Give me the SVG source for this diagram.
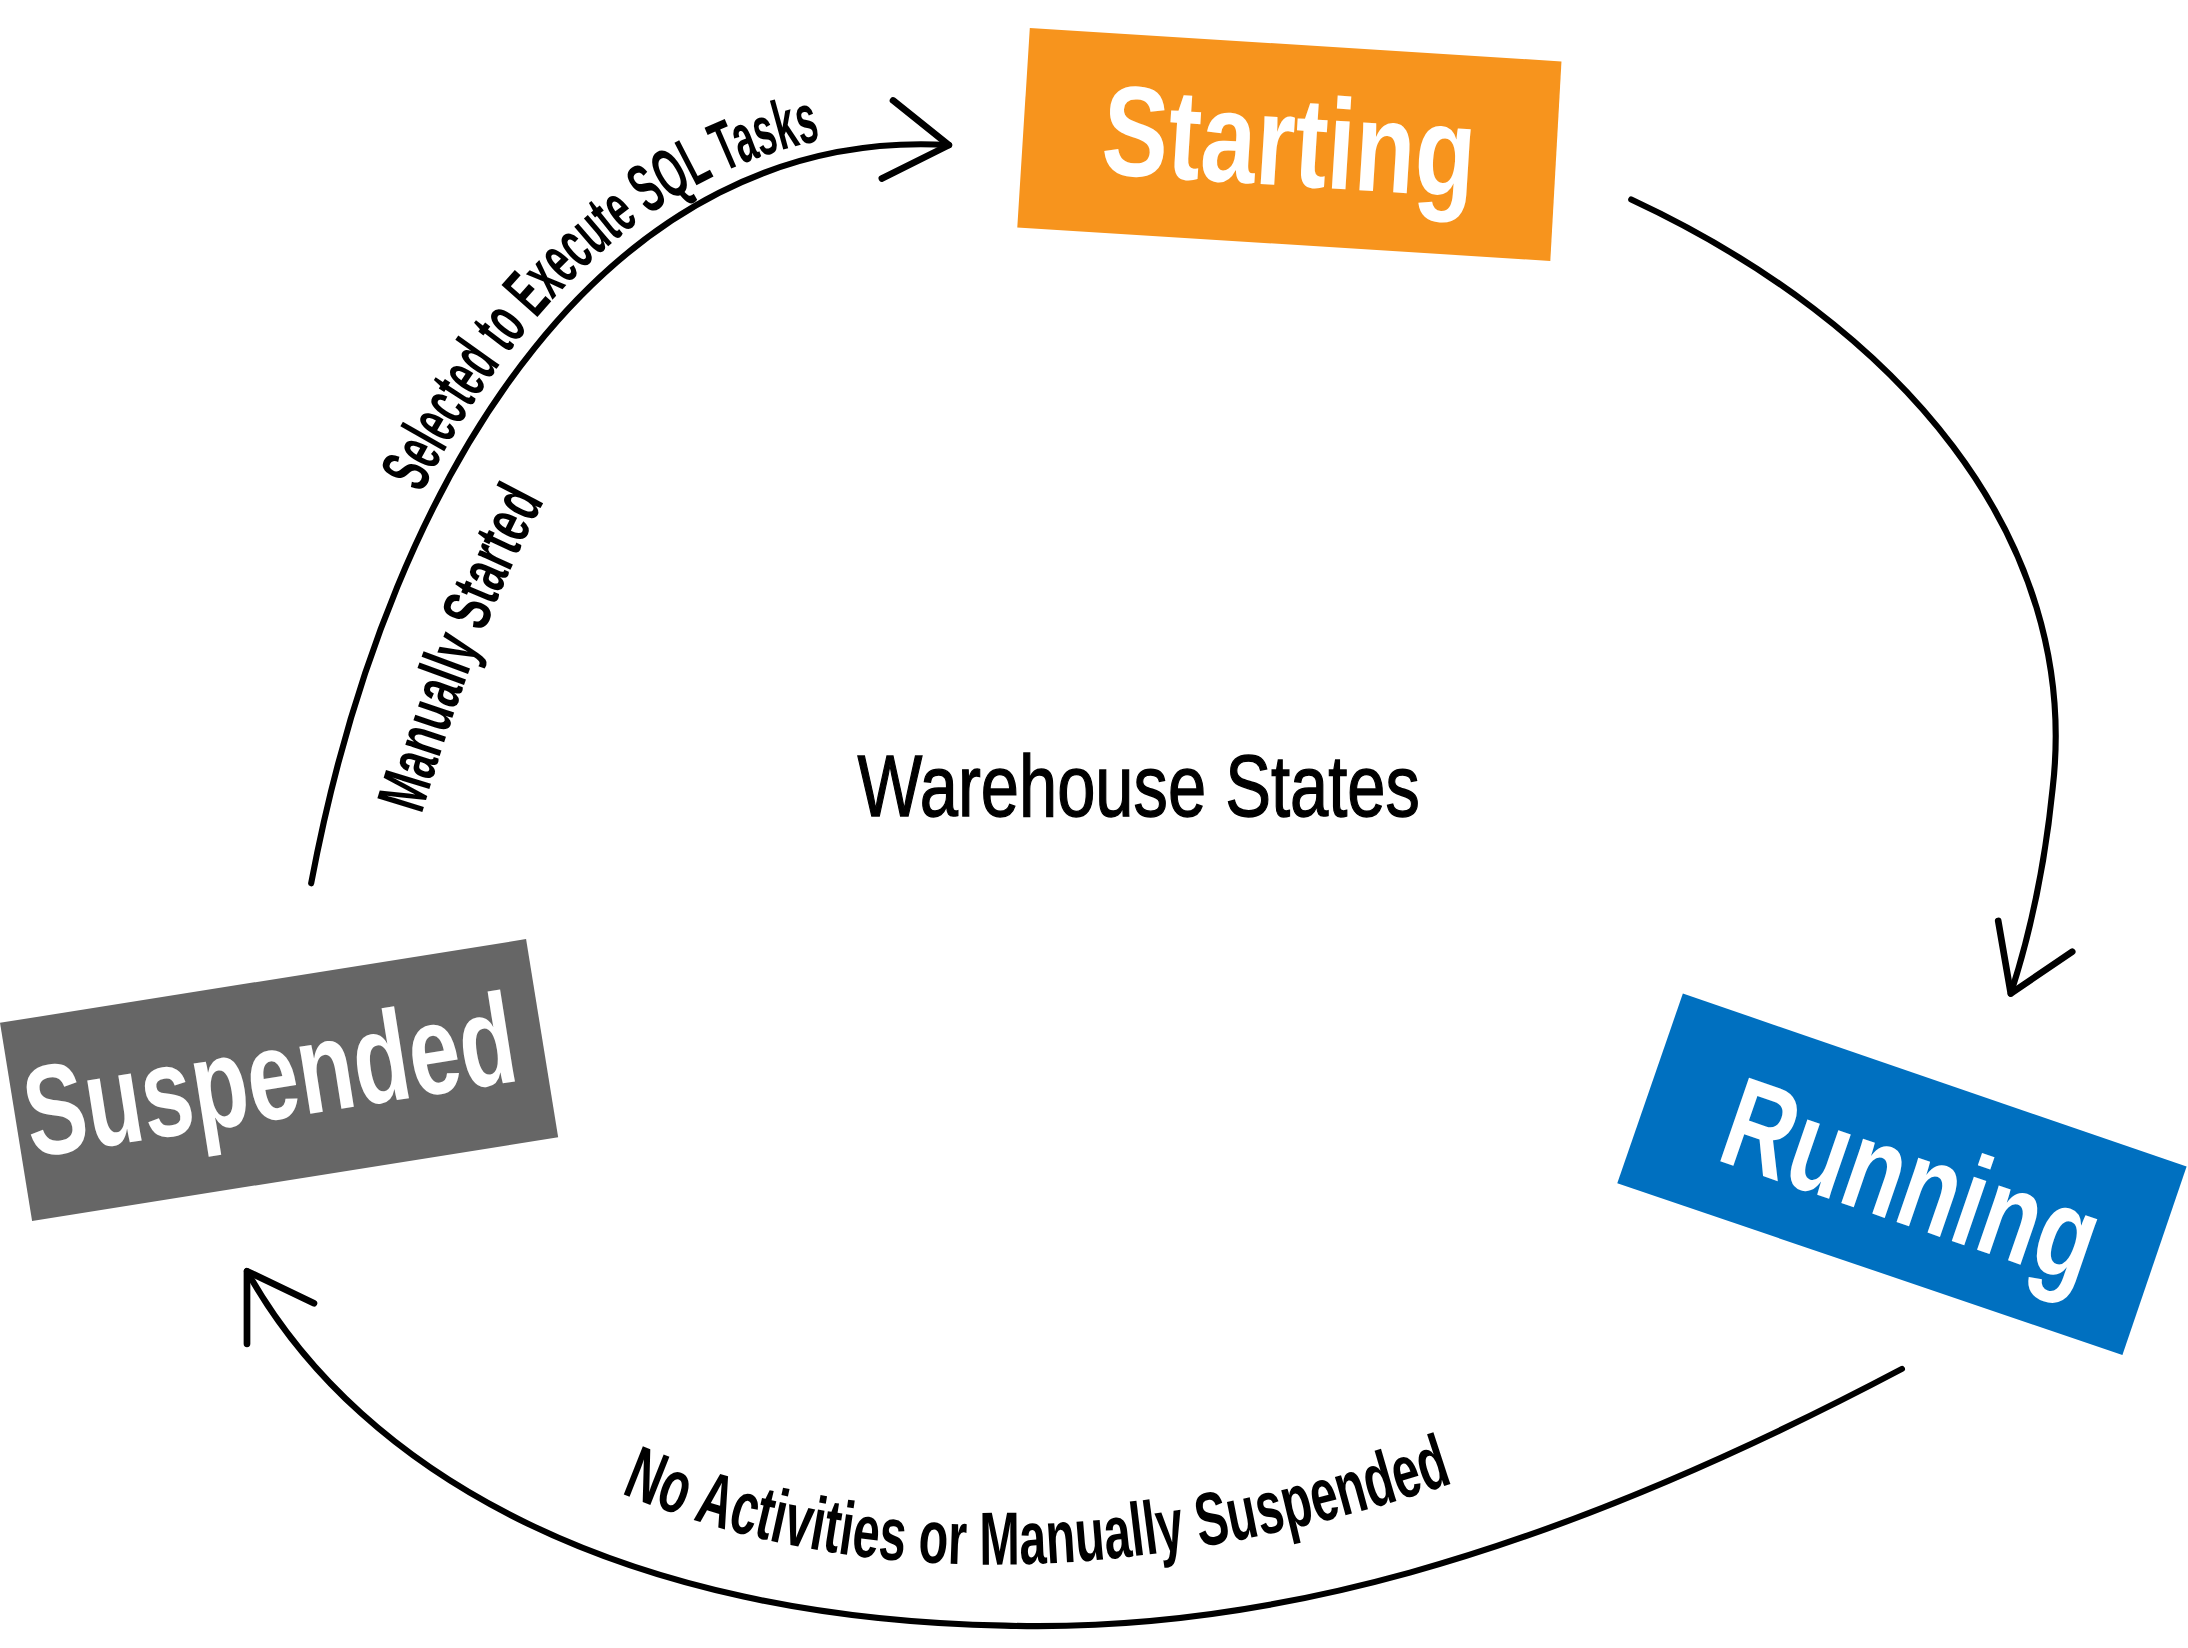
<svg xmlns="http://www.w3.org/2000/svg" width="2188" height="1648" viewBox="0 0 2188 1648">
<defs>
<style>
.edge{fill:none;stroke:#000;stroke-width:4.4;stroke-linecap:round;stroke-linejoin:round}
.head{fill:none;stroke:#000;stroke-width:4.8;stroke-linecap:round;stroke-linejoin:round}
.nlabel{font-family:"Liberation Sans","DejaVu Sans",sans-serif;font-weight:bold;fill:#fff;font-size:92px}
.elabel{font-family:"Liberation Sans","DejaVu Sans",sans-serif;font-weight:bold;fill:#000}
.title{font-family:"Liberation Sans","DejaVu Sans",sans-serif;fill:#000;font-size:62px;stroke:#000;stroke-width:1}
</style>
<path id="lp1" d="M 214,624 C 271,321 431,81 671,95"/>
<path id="lp2" d="M 302,584 Q 345,440 394,352"/>
<path id="lp3" d="M 445,1070 C 600,1135 800,1145 1050,1060"/>
</defs>
<rect width="2188" height="1648" fill="#fff"/>
<g transform="scale(1.39541)">
  <g id="node-starting">
    <polygon points="738,20 1119,44 1111,187 729,163" fill="#F7941D"/>
    <text class="nlabel" transform="translate(922,133) rotate(3.6)" text-anchor="middle" textLength="268" lengthAdjust="spacingAndGlyphs">Starting</text>
  </g>
  <g id="node-running">
    <polygon points="1206,712 1567,836 1521,971 1159,848" fill="#0070C0"/>
    <text class="nlabel" transform="translate(1360,876) rotate(19)" text-anchor="middle" textLength="278" lengthAdjust="spacingAndGlyphs">Running</text>
  </g>
  <g id="node-suspended">
    <polygon points="0,733 377,673 400,815 23,875" fill="#666666"/>
    <text class="nlabel" transform="translate(198,802) rotate(-9)" text-anchor="middle" textLength="355" lengthAdjust="spacingAndGlyphs">Suspended</text>
  </g>
  <g id="title">
    <text class="title" x="816" y="585" text-anchor="middle" textLength="403" lengthAdjust="spacingAndGlyphs">Warehouse States</text>
  </g>
  <g id="connectors">
    <path class="edge" d="M 223,633 C 280,330 440,90 680,104"/>
    <polyline class="head" points="640,72 680,104 632,128"/>
    <path class="edge" d="M 1169,143 C 1360,232 1492,385 1471,565 C 1465,625 1453,675 1441,712"/>
    <polyline class="head" points="1432,660 1441,712 1485,682"/>
    <path class="edge" d="M 1363,981 C 1100,1120 900,1170 720,1165 C 450,1160 260,1060 177,911"/>
    <polyline class="head" points="225,934 177,911 177,963"/>
    <text class="elabel" font-size="50"><textPath href="#lp1" startOffset="285" textLength="396" lengthAdjust="spacingAndGlyphs">Selected to Execute SQL Tasks</textPath></text>
    <text class="elabel" font-size="49"><textPath href="#lp2" startOffset="0" textLength="242" lengthAdjust="spacingAndGlyphs">Manually Started</textPath></text>
    <text class="elabel" font-size="54"><textPath href="#lp3" startOffset="0" textLength="610" lengthAdjust="spacingAndGlyphs">No Activities or Manually Suspended</textPath></text>
  </g>
</g>
</svg>
